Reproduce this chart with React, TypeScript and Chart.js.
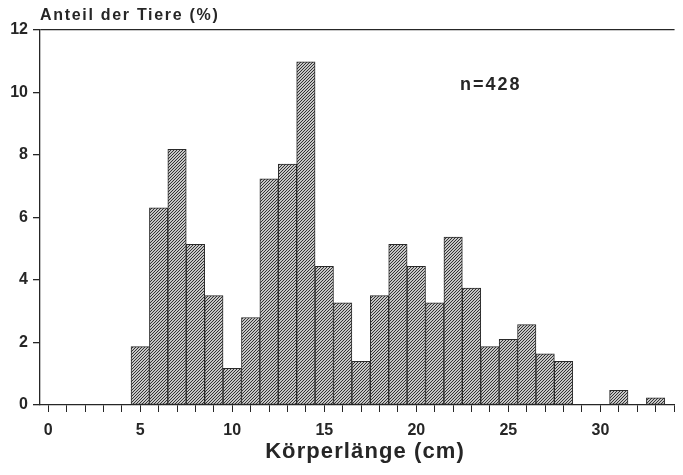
import React, { useEffect, useRef } from "react";
import { Chart, registerables } from "chart.js";

Chart.register(...registerables);

// Body length classes (cm) and share of animals (%)
const LENGTHS = [5, 6, 7, 8, 9, 10, 11, 12, 13, 14, 15, 16, 17, 18, 19, 20, 21, 22, 23, 24, 25, 26, 27, 28, 31, 33];
const PERCENT = [1.87, 6.31, 8.18, 5.14, 3.5, 1.17, 2.8, 7.24, 7.71, 10.98, 4.44, 3.27, 1.4, 3.5, 5.14, 4.44, 3.27, 5.37, 3.74, 1.87, 2.1, 2.57, 1.64, 1.4, 0.47, 0.23];
const X_MIN = -0.445;
const X_MAX = 34.03;
const Y_MIN = 0;
const Y_MAX = 12;
const Y_TITLE = "Anteil der Tiere (%)";
const X_TITLE = "Körperlänge (cm)";
const N_LABEL = "n=428";

const INK = "#262626";
const FONT = "'Liberation Sans', Arial, sans-serif";

function makePattern(): CanvasPattern | string {
  const c = document.createElement("canvas");
  c.width = 3;
  c.height = 3;
  const g = c.getContext("2d");
  if (!g) return "#999";
  g.fillStyle = "#c6c6c6";
  g.fillRect(0, 0, 3, 3);
  g.fillStyle = "#333333";
  g.fillRect(2, 0, 1, 1);
  g.fillRect(1, 1, 1, 1);
  g.fillRect(0, 2, 1, 1);
  const p = g.createPattern(c, "repeat");
  return p || "#999";
}

export default function App() {
  const ref = useRef<HTMLCanvasElement | null>(null);

  useEffect(() => {
    if (!ref.current) return;
    const textPlugin = {
      id: "texts",
      afterDraw(chart: any) {
        const ctx = chart.ctx as CanvasRenderingContext2D;
        const area = chart.chartArea;
        ctx.save();
        ctx.fillStyle = INK;
        ctx.textBaseline = "alphabetic";
        (ctx as any).letterSpacing = "1.7px";
        ctx.font = `bold 16px ${FONT}`;
        ctx.textAlign = "left";
        ctx.fillText(Y_TITLE, area.left, 20);
        (ctx as any).letterSpacing = "2px";
        ctx.font = `bold 18px ${FONT}`;
        ctx.fillText(N_LABEL, 460, 89.5);
        (ctx as any).letterSpacing = "1.1px";
        ctx.font = `bold 22px ${FONT}`;
        ctx.textAlign = "center";
        ctx.fillText(X_TITLE, 365, 458);
        ctx.restore();
      },
    };

    const chart = new Chart(ref.current, {
      type: "bar",
      data: {
        datasets: [
          {
            data: LENGTHS.map((x, i) => ({ x, y: PERCENT[i] })),
            backgroundColor: makePattern() as any,
            borderColor: "#2a2a2a",
            borderWidth: 1,
            borderSkipped: false,
            barPercentage: 1,
            categoryPercentage: 1,
          },
        ],
      },
      options: {
        animation: false,
        responsive: true,
        maintainAspectRatio: false,
        layout: { padding: { top: 30, left: 0, right: 0, bottom: 0 } },
        plugins: {
          legend: { display: false },
          tooltip: { enabled: false },
          title: { display: false },
        },
        scales: {
          x: {
            type: "linear",
            min: X_MIN,
            max: X_MAX,
            offset: false,
            afterFit(scale: any) {
              scale.height = 70;
            },
            border: { display: true, color: INK, width: 1.3 },
            grid: {
              offset: false,
              drawOnChartArea: false,
              drawTicks: true,
              tickLength: 7,
              tickColor: INK,
              tickWidth: 1,
            },
            ticks: {
              stepSize: 1,
              includeBounds: false,
              autoSkip: false,
              maxRotation: 0,
              padding: 9,
              color: INK,
              font: { family: FONT, size: 16, weight: "bold" },
              callback: (v: any) => (Number(v) % 5 === 0 ? String(v) : ""),
            },
          },
          y: {
            type: "linear",
            min: Y_MIN,
            max: Y_MAX,
            afterFit(scale: any) {
              scale.width = 40;
            },
            border: { display: true, color: INK, width: 1.3 },
            grid: {
              drawOnChartArea: true,
              drawTicks: true,
              tickLength: 7,
              tickColor: INK,
              color: (c: any) => (c.tick && c.tick.value === Y_MAX ? INK : "rgba(0,0,0,0)"),
              lineWidth: 1.3,
            },
            ticks: {
              stepSize: 2,
              padding: 5,
              color: INK,
              font: { family: FONT, size: 16, weight: "bold" },
            },
          },
        },
      },
      plugins: [textPlugin],
    } as any);

    return () => chart.destroy();
  }, []);

  return (
    <div style={{ position: "absolute", left: 0, top: 0, width: 683, height: 475, background: "#fff" }}>
      <canvas ref={ref} />
    </div>
  );
}
